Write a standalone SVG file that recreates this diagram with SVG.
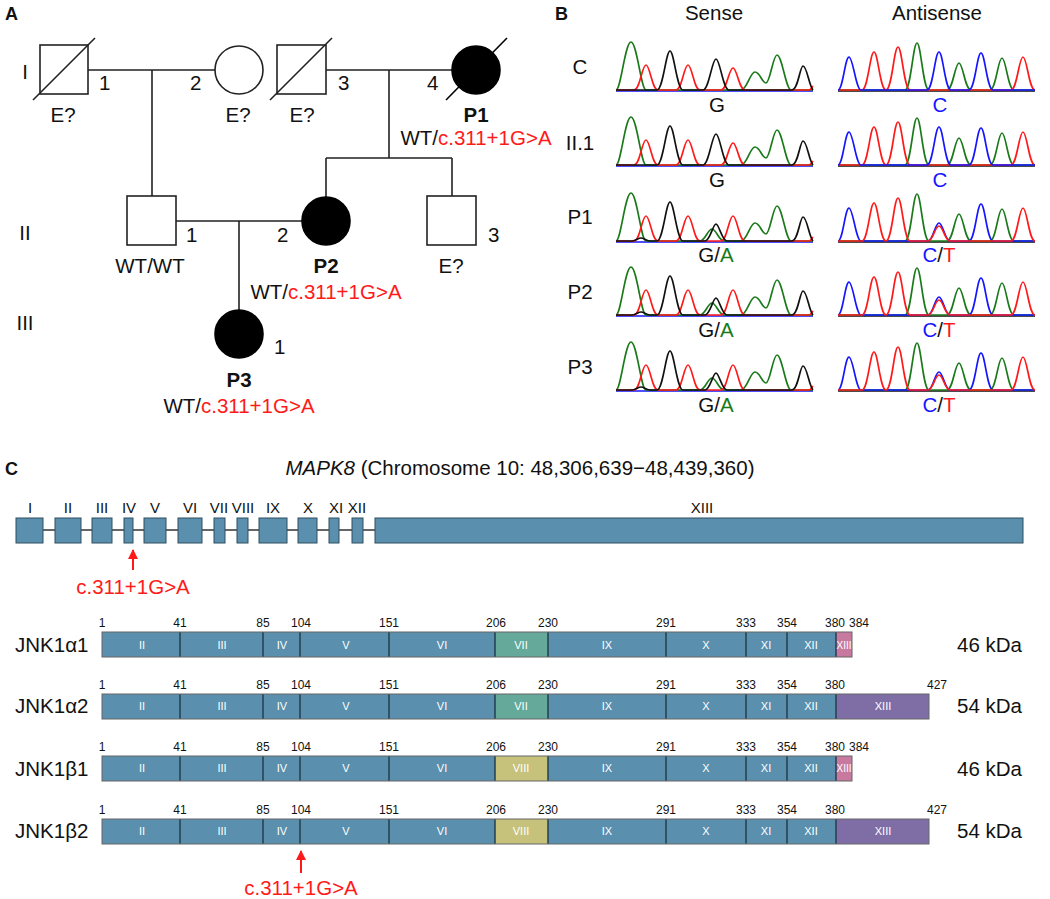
<svg xmlns="http://www.w3.org/2000/svg" width="1050" height="899" viewBox="0 0 1050 899">
<style>
text{font-family:"Liberation Sans",Arial,sans-serif;fill:#111}
.t20{font-size:20.5px}
.b{font-weight:bold}
.mid{text-anchor:middle}
.red{fill:#ff1a1a}
.grn{fill:#1a7a1a}
.blu{fill:#1515ff}
.ped{fill:#fff;stroke:#222;stroke-width:1.6}
.aff{fill:#000;stroke:#000;stroke-width:1.6}
.ln{stroke:#222;stroke-width:1.6;fill:none}
.tr{fill:none;stroke-width:1.7;stroke-linejoin:round}
.g{stroke:#1a7a1a}.r{stroke:#ff1a1a}.k{stroke:#111}.bl{stroke:#1515ff}
.exon{fill:#5a8fae;stroke:#2f4f60;stroke-width:1}
.ex{font-size:15px;text-anchor:middle}
.seg{stroke:#1e3a48;stroke-width:1.4}
.blue{fill:#5a8fae}.teal{fill:#64a999}.olive{fill:#c6c27b}.pink{fill:#c8799f}.purp{fill:#7f6ea6}
.sl{font-size:11px;fill:#fff;text-anchor:middle}
.num{font-size:12px;text-anchor:middle}
.arr{stroke:#ff1a1a;stroke-width:2;fill:none}
</style>
<defs>
<marker id="ah" viewBox="0 0 10 10" refX="9" refY="5" markerWidth="5" markerHeight="5" orient="auto"><path d="M0,0L10,5L0,10z" fill="#ff1a1a"/></marker>
<g id="senseN">
<path class="tr bl" d="M616,1L813,1"/>
<path class="tr g" d="M616,0C621,0 625,-48 631,-48C637,-48 641,0 646,0L741,0C747,0 750,-18 755,-18C760,-18 762,-7 766,-7C770,-7 773,-35 777,-35C782,-35 786,0 791,0L813,0"/>
<path class="tr r" d="M616,0L634,0C640,0 642,-25 646,-25C650,-25 652,0 658,0L676,0C682,0 684,-25 688,-25C692,-25 694,0 700,0L721,0C727,0 729,-22 733,-22C737,-22 739,0 745,0L809,0C811,0 812,-3 813,-4"/>
<path class="tr k" d="M616,0L657,0C663,0 666,-39 670,-39C674,-39 677,0 683,0L703,0C709,0 712,-31 716,-31C720,-31 723,0 729,0L792,0C798,0 800,-24 803,-24C807,-24 809,-4 813,0"/>
</g>
<g id="senseH">
<path class="tr bl" d="M616,1L813,1"/>
<path class="tr g" d="M616,0C621,0 625,-48 631,-48C637,-48 641,0 646,0L700,0C705,0 708,-12 712,-12C716,-12 719,0 724,0L741,0C747,0 750,-18 755,-18C760,-18 762,-7 766,-7C770,-7 773,-35 777,-35C782,-35 786,0 791,0L813,0"/>
<path class="tr r" d="M616,0L634,0C640,0 642,-25 646,-25C650,-25 652,0 658,0L676,0C682,0 684,-25 688,-25C692,-25 694,0 700,0L721,0C727,0 729,-25 733,-25C737,-25 739,0 745,0L809,0C811,0 812,-3 813,-4"/>
<path class="tr k" d="M616,0L632,0C636,0 638,-3 641,-3C644,-3 646,0 650,0L657,0C663,0 666,-39 670,-39C674,-39 677,0 683,0L705,0C710,0 713,-17 716,-17C719,-17 722,0 727,0L792,0C798,0 800,-24 803,-24C807,-24 809,-4 813,0"/>
</g>
<g id="antiN">
<path class="tr k" d="M838,1L1035,1"/>
<path class="tr g" d="M838,0L905,0C911,0 913,-47 917,-47C921,-47 923,0 929,0L947,0C953,0 955,-27 959,-27C963,-27 965,0 971,0L990,0C996,0 998,-32 1002,-32C1006,-32 1008,0 1014,0L1035,0"/>
<path class="tr r" d="M838,0L862,0C868,0 870,-38 874,-38C878,-38 880,0 886,0C892,0 894,-43 898,-43C902,-43 904,0 910,0L1011,0C1017,0 1019,-33 1023,-33C1027,-33 1029,0 1035,0"/>
<path class="tr bl" d="M838,0C843,0 845,-33 849,-33C853,-33 856,0 861,0L927,0C933,0 935,-38 939,-38C943,-38 945,0 951,0L969,0C975,0 977,-37 981,-37C985,-37 987,0 993,0L1035,0"/>
</g>
<g id="antiH">
<path class="tr k" d="M838,1L1035,1"/>
<path class="tr g" d="M838,0L905,0C911,0 913,-47 917,-47C921,-47 923,0 929,0L947,0C953,0 955,-27 959,-27C963,-27 965,0 971,0L990,0C996,0 998,-32 1002,-32C1006,-32 1008,0 1014,0L1035,0"/>
<path class="tr bl" d="M838,0C843,0 845,-33 849,-33C853,-33 856,0 861,0L928,0C933,0 935,-18 939,-18C943,-18 945,0 950,0L969,0C975,0 977,-37 981,-37C985,-37 987,0 993,0L1035,0"/>
<path class="tr r" d="M838,0L862,0C868,0 870,-38 874,-38C878,-38 880,0 886,0C892,0 894,-43 898,-43C902,-43 904,0 910,0L928,0C933,0 935,-15 939,-15C943,-15 945,0 950,0L1011,0C1017,0 1019,-33 1023,-33C1027,-33 1029,0 1035,0"/>
</g>
</defs>

<!-- Panel A -->
<text class="b" x="5" y="20" style="font-size:18px">A</text>
<text x="25" y="79" class="t20 mid">I</text>
<text x="25" y="240" class="t20 mid">II</text>
<text x="25" y="330" class="t20 mid">III</text>
<g id="connectors-ped">
<path class="ln" d="M88,70H215M152,70V196M326,70H452M389,70V158M326,158H452M326,158V197M452,158V196M176,221H302M239,221V310"/>
</g>
<g id="I-1"><rect class="ped" x="40" y="45" width="48" height="49"/><line class="ln" x1="33" y1="100" x2="95" y2="38"/><text class="t20" x="99" y="90">1</text><text class="t20 mid" x="63" y="122">E?</text></g>
<g id="I-2"><circle class="ped" cx="239" cy="70" r="24"/><text class="t20" x="190" y="90">2</text><text class="t20 mid" x="238" y="122">E?</text></g>
<g id="I-3"><rect class="ped" x="277" y="45" width="49" height="49"/><line class="ln" x1="270" y1="100" x2="332" y2="38"/><text class="t20" x="338" y="90">3</text><text class="t20 mid" x="302" y="122">E?</text></g>
<g id="I-4"><circle class="aff" cx="476" cy="70" r="24"/><line x1="446" y1="100" x2="507" y2="38" stroke="#000" stroke-width="1.6"/><text class="t20" x="427" y="90">4</text><text class="t20 b mid" x="476" y="122">P1</text><text class="t20 mid" x="476" y="145">WT/<tspan class="red">c.311+1G&gt;A</tspan></text></g>
<g id="II-1"><rect class="ped" x="127" y="196" width="49" height="49"/><text class="t20" x="186" y="242">1</text><text class="t20 mid" x="150" y="273">WT/WT</text></g>
<g id="II-2"><circle class="aff" cx="326" cy="221" r="24"/><text class="t20" x="277" y="242">2</text><text class="t20 b mid" x="326" y="273">P2</text><text class="t20 mid" x="326" y="299">WT/<tspan class="red">c.311+1G&gt;A</tspan></text></g>
<g id="II-3"><rect class="ped" x="427" y="196" width="49" height="49"/><text class="t20" x="488" y="242">3</text><text class="t20 mid" x="451" y="273">E?</text></g>
<g id="III-1"><circle class="aff" cx="239" cy="334" r="24"/><text class="t20" x="274" y="354">1</text><text class="t20 b mid" x="239" y="387">P3</text><text class="t20 mid" x="239" y="413">WT/<tspan class="red">c.311+1G&gt;A</tspan></text></g>

<!-- Panel B -->
<text class="b" x="555" y="20" style="font-size:18px">B</text>
<text class="t20 mid" x="714" y="20">Sense</text>
<text class="t20 mid" x="937" y="20">Antisense</text>
<g id="chromatograms">
<text class="t20 mid" x="580" y="74">C</text>
<use href="#senseN" transform="translate(0,90)"/><use href="#antiN" transform="translate(0,90)"/>
<text class="t20 mid" x="717" y="112">G</text><text class="t20 mid blu" x="940" y="112">C</text>
<text class="t20 mid" x="580" y="150">II.1</text>
<use href="#senseN" transform="translate(0,165)"/><use href="#antiN" transform="translate(0,165)"/>
<text class="t20 mid" x="717" y="187">G</text><text class="t20 mid blu" x="940" y="187">C</text>
<text class="t20 mid" x="580" y="224">P1</text>
<use href="#senseH" transform="translate(0,241)"/><use href="#antiH" transform="translate(0,241)"/>
<text class="t20 mid" x="716" y="262">G/<tspan class="grn">A</tspan></text><text class="t20 mid" x="939" y="262"><tspan class="blu">C</tspan>/<tspan class="red">T</tspan></text>
<text class="t20 mid" x="580" y="299">P2</text>
<use href="#senseH" transform="translate(0,315)"/><use href="#antiH" transform="translate(0,315)"/>
<text class="t20 mid" x="716" y="337">G/<tspan class="grn">A</tspan></text><text class="t20 mid" x="939" y="337"><tspan class="blu">C</tspan>/<tspan class="red">T</tspan></text>
<text class="t20 mid" x="580" y="374">P3</text>
<use href="#senseH" transform="translate(0,390)"/><use href="#antiH" transform="translate(0,390)"/>
<text class="t20 mid" x="716" y="412">G/<tspan class="grn">A</tspan></text><text class="t20 mid" x="939" y="412"><tspan class="blu">C</tspan>/<tspan class="red">T</tspan></text>
</g>

<!-- Panel C -->
<text class="b" x="5" y="475" style="font-size:18px">C</text>
<text class="t20 mid" x="520" y="475"><tspan font-style="italic">MAPK8</tspan> (Chromosome 10: 48,306,639−48,439,360)</text>
<g id="gene">
<line x1="30" y1="530" x2="380" y2="530" stroke="#333" stroke-width="1.5"/>
<rect class="exon" x="16" y="518" width="27" height="25"/>
<rect class="exon" x="55" y="518" width="26" height="25"/>
<rect class="exon" x="92" y="518" width="20" height="25"/>
<rect class="exon" x="124" y="518" width="9" height="25"/>
<rect class="exon" x="144" y="518" width="22" height="25"/>
<rect class="exon" x="178" y="518" width="24" height="25"/>
<rect class="exon" x="214" y="518" width="11" height="25"/>
<rect class="exon" x="237" y="518" width="11" height="25"/>
<rect class="exon" x="259" y="518" width="28" height="25"/>
<rect class="exon" x="298" y="518" width="19" height="25"/>
<rect class="exon" x="329" y="518" width="10" height="25"/>
<rect class="exon" x="352" y="518" width="11" height="25"/>
<rect class="exon" x="375" y="518" width="648" height="25"/>
<text class="ex" x="30" y="513">I</text><text class="ex" x="68" y="513">II</text><text class="ex" x="102" y="513">III</text><text class="ex" x="129" y="513">IV</text><text class="ex" x="155" y="513">V</text><text class="ex" x="190" y="513">VI</text><text class="ex" x="219" y="513">VII</text><text class="ex" x="243" y="513">VIII</text><text class="ex" x="273" y="513">IX</text><text class="ex" x="308" y="513">X</text><text class="ex" x="336" y="513">XI</text><text class="ex" x="357" y="513">XII</text><text class="ex" x="702" y="513">XIII</text>
<line class="arr" x1="133" y1="570" x2="133" y2="550" marker-end="url(#ah)"/>
<text class="t20 mid red" x="133" y="594">c.311+1G&gt;A</text>
</g>

<g id="JNK1a1">
<text class="t20" x="15" y="652">JNK1α1</text>
<rect class="blue" x="102" y="632" width="393" height="25"/><rect class="teal" x="495" y="632" width="53" height="25"/><rect class="blue" x="548" y="632" width="288" height="25"/><rect class="pink" x="836" y="632" width="16" height="25"/>
<path class="seg" d="M180,632V657M263,632V657M300,632V657M389,632V657M495,632V657M548,632V657M666,632V657M746,632V657M787,632V657M836,632V657"/>
<rect x="102" y="632" width="750" height="25" fill="none" stroke="#666" stroke-width="1"/>
<text class="sl" x="142" y="649">II</text><text class="sl" x="222" y="649">III</text><text class="sl" x="282" y="649">IV</text><text class="sl" x="346" y="649">V</text><text class="sl" x="442" y="649">VI</text><text class="sl" x="521" y="649">VII</text><text class="sl" x="607" y="649">IX</text><text class="sl" x="706" y="649">X</text><text class="sl" x="766" y="649">XI</text><text class="sl" x="811" y="649">XII</text><text class="sl" x="844" y="649" style="font-size:10px">XIII</text>
<text class="num" x="102" y="627">1</text><text class="num" x="180" y="627">41</text><text class="num" x="263" y="627">85</text><text class="num" x="301" y="627">104</text><text class="num" x="389" y="627">151</text><text class="num" x="496" y="627">206</text><text class="num" x="548" y="627">230</text><text class="num" x="666" y="627">291</text><text class="num" x="746" y="627">333</text><text class="num" x="787" y="627">354</text><text class="num" x="835" y="627">380</text><text class="num" x="859" y="627">384</text>
<text class="t20" x="957" y="652">46 kDa</text>
</g>

<g id="JNK1a2">
<text class="t20" x="15" y="713">JNK1α2</text>
<rect class="blue" x="102" y="694" width="393" height="25"/><rect class="teal" x="495" y="694" width="53" height="25"/><rect class="blue" x="548" y="694" width="288" height="25"/><rect class="purp" x="836" y="694" width="93" height="25"/>
<path class="seg" d="M180,694V719M263,694V719M300,694V719M389,694V719M495,694V719M548,694V719M666,694V719M746,694V719M787,694V719M836,694V719"/>
<rect x="102" y="694" width="827" height="25" fill="none" stroke="#666" stroke-width="1"/>
<text class="sl" x="142" y="710">II</text><text class="sl" x="222" y="710">III</text><text class="sl" x="282" y="710">IV</text><text class="sl" x="346" y="710">V</text><text class="sl" x="442" y="710">VI</text><text class="sl" x="521" y="710">VII</text><text class="sl" x="607" y="710">IX</text><text class="sl" x="706" y="710">X</text><text class="sl" x="766" y="710">XI</text><text class="sl" x="811" y="710">XII</text><text class="sl" x="883" y="710">XIII</text>
<text class="num" x="102" y="689">1</text><text class="num" x="180" y="689">41</text><text class="num" x="263" y="689">85</text><text class="num" x="301" y="689">104</text><text class="num" x="389" y="689">151</text><text class="num" x="496" y="689">206</text><text class="num" x="548" y="689">230</text><text class="num" x="666" y="689">291</text><text class="num" x="746" y="689">333</text><text class="num" x="787" y="689">354</text><text class="num" x="835" y="689">380</text><text class="num" x="937" y="689">427</text>
<text class="t20" x="957" y="713">54 kDa</text>
</g>

<g id="JNK1b1">
<text class="t20" x="15" y="776">JNK1β1</text>
<rect class="blue" x="102" y="756" width="393" height="25"/><rect class="olive" x="495" y="756" width="53" height="25"/><rect class="blue" x="548" y="756" width="288" height="25"/><rect class="pink" x="836" y="756" width="16" height="25"/>
<path class="seg" d="M180,756V781M263,756V781M300,756V781M389,756V781M495,756V781M548,756V781M666,756V781M746,756V781M787,756V781M836,756V781"/>
<rect x="102" y="756" width="750" height="25" fill="none" stroke="#666" stroke-width="1"/>
<text class="sl" x="142" y="772">II</text><text class="sl" x="222" y="772">III</text><text class="sl" x="282" y="772">IV</text><text class="sl" x="346" y="772">V</text><text class="sl" x="442" y="772">VI</text><text class="sl" x="521" y="772">VIII</text><text class="sl" x="607" y="772">IX</text><text class="sl" x="706" y="772">X</text><text class="sl" x="766" y="772">XI</text><text class="sl" x="811" y="772">XII</text><text class="sl" x="844" y="772" style="font-size:10px">XIII</text>
<text class="num" x="102" y="751">1</text><text class="num" x="180" y="751">41</text><text class="num" x="263" y="751">85</text><text class="num" x="301" y="751">104</text><text class="num" x="389" y="751">151</text><text class="num" x="496" y="751">206</text><text class="num" x="548" y="751">230</text><text class="num" x="666" y="751">291</text><text class="num" x="746" y="751">333</text><text class="num" x="787" y="751">354</text><text class="num" x="835" y="751">380</text><text class="num" x="859" y="751">384</text>
<text class="t20" x="957" y="776">46 kDa</text>
</g>

<g id="JNK1b2">
<text class="t20" x="15" y="838">JNK1β2</text>
<rect class="blue" x="102" y="819" width="393" height="25"/><rect class="olive" x="495" y="819" width="53" height="25"/><rect class="blue" x="548" y="819" width="288" height="25"/><rect class="purp" x="836" y="819" width="93" height="25"/>
<path class="seg" d="M180,819V844M263,819V844M300,819V844M389,819V844M495,819V844M548,819V844M666,819V844M746,819V844M787,819V844M836,819V844"/>
<rect x="102" y="819" width="827" height="25" fill="none" stroke="#666" stroke-width="1"/>
<text class="sl" x="142" y="835">II</text><text class="sl" x="222" y="835">III</text><text class="sl" x="282" y="835">IV</text><text class="sl" x="346" y="835">V</text><text class="sl" x="442" y="835">VI</text><text class="sl" x="521" y="835">VIII</text><text class="sl" x="607" y="835">IX</text><text class="sl" x="706" y="835">X</text><text class="sl" x="766" y="835">XI</text><text class="sl" x="811" y="835">XII</text><text class="sl" x="883" y="835">XIII</text>
<text class="num" x="102" y="814">1</text><text class="num" x="180" y="814">41</text><text class="num" x="263" y="814">85</text><text class="num" x="301" y="814">104</text><text class="num" x="389" y="814">151</text><text class="num" x="496" y="814">206</text><text class="num" x="548" y="814">230</text><text class="num" x="666" y="814">291</text><text class="num" x="746" y="814">333</text><text class="num" x="787" y="814">354</text><text class="num" x="835" y="814">380</text><text class="num" x="937" y="814">427</text>
<text class="t20" x="957" y="838">54 kDa</text>
<line class="arr" x1="301" y1="873" x2="301" y2="851" marker-end="url(#ah)"/>
<text class="t20 mid red" x="301" y="895">c.311+1G&gt;A</text>
</g>
</svg>
